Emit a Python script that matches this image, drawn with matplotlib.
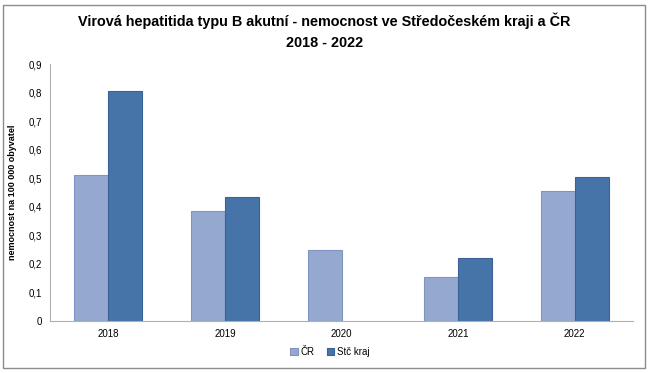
import matplotlib
matplotlib.use("Agg")
import matplotlib.pyplot as plt
import numpy as np
from matplotlib.patches import Rectangle

years = ["2018", "2019", "2020", "2021", "2022"]
cr = [0.51, 0.385, 0.25, 0.155, 0.455]
stc = [0.805, 0.435, 0.0, 0.22, 0.505]
series_names = ["ČR", "Stč kraj"]
yticks = [0, 0.1, 0.2, 0.3, 0.4, 0.5, 0.6, 0.7, 0.8, 0.9]
ytick_labels = ["0", "0,1", "0,2", "0,3", "0,4", "0,5", "0,6", "0,7", "0,8", "0,9"]

plt.rcParams['font.family'] = ['Liberation Sans', 'DejaVu Sans']

W, H = 649, 373
fig = plt.figure(figsize=(W/100, H/100), dpi=100)
fig.patches.append(Rectangle((3/W, 5/H), 642/W, 363/H, transform=fig.transFigure,
                             fill=False, edgecolor='#8c8c8c', lw=1.0))

ax = fig.add_axes([50/W, 1-321/H, 583/W, 257/H])
x = np.arange(len(years))
bw = 0.29
c1, c2 = '#95a9d0', '#4673a8'
b1 = ax.bar(x - bw/2, cr, bw, color=c1, edgecolor='#7f95c0', lw=0.8, label=series_names[0])
b2 = ax.bar(x + bw/2, stc, bw, color=c2, edgecolor='#3a6296', lw=0.8, label=series_names[1])
for bars in (b1, b2):
    for r in bars:
        if r.get_height() == 0:
            r.set_linewidth(0)

ax.set_xlim(-0.5, len(years) - 0.5)
ax.set_ylim(0, 0.9)
ax.set_yticks(yticks)
ax.set_yticklabels(ytick_labels, fontsize=7)
ax.set_xticks(x)
ax.set_xticklabels(years, fontsize=7)
ax.tick_params(axis='both', length=0, pad=6)
for s in ['top', 'right']:
    ax.spines[s].set_visible(False)
ax.spines['left'].set_color('#b0b0b0')
ax.spines['bottom'].set_color('#b0b0b0')
ax.set_ylabel("nemocnost na 100 000 obyvatel", fontsize=6.5, fontweight='bold', labelpad=8)

fig.text(0.5, 1-21/H, "Virová hepatitida typu B akutní - nemocnost ve Středočeském kraji a ČR",
         ha='center', va='center', fontsize=10.4, fontweight='bold')
fig.text(0.5, 1-43/H, "2018 - 2022", ha='center', va='center', fontsize=10.4, fontweight='bold')

fig.legend(loc='center', bbox_to_anchor=(330/W, 1-352/H), ncol=2, frameon=False,
           fontsize=7, handlelength=0.8, handleheight=0.8, handletextpad=0.3, columnspacing=1.2)

fig.savefig("out.png", dpi=100)
